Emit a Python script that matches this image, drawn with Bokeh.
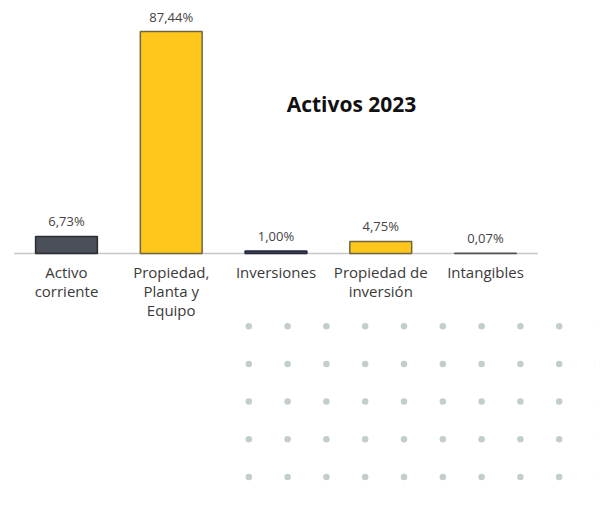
import numpy as np
from bokeh.plotting import figure
from bokeh.models import Range1d, Label
from bokeh.core.properties import value
from bokeh.embed import file_html
from bokeh.resources import INLINE

# ---- data ----
categories = ["Activo\ncorriente", "Propiedad,\nPlanta y\nEquipo", "Inversiones",
              "Propiedad de\ninversión", "Intangibles"]
values = [6.73, 87.44, 1.00, 4.75, 0.07]
bar_colors = ["#4a4f58", "#FFC71C", "#3c4158", "#FFC71C", "#767676"]
edge_colors = ["#2a2d33", "#6f6640", "#25283a", "#6f6640", "#555555"]
title_text = "Activos 2023"

W, H = 595, 503
FONT = "Open Sans"

pos = np.arange(len(values)) + 0.5
labels = [f"{v:.2f}".replace(".", ",") + "%" for v in values]

p = figure(width=W, height=H, output_backend="svg", toolbar_location=None,
           x_range=Range1d(-0.1298, 5.550), y_range=Range1d(-98.46, 99.65),
           min_border=0, outline_line_color=None)
p.axis.visible = False
p.grid.visible = False
p.background_fill_color = "white"
p.border_fill_color = "white"

# decorative dot grid (pixel-like ranges)
p.extra_x_ranges = {"px": Range1d(0, W)}
p.extra_y_ranges = {"py": Range1d(H, 0)}
dx, dy = np.meshgrid(248.3 + 38.8 * np.arange(10), 325.7 + 37.7 * np.arange(6))
p.scatter(dx.ravel(), dy.ravel(), size=6.5, color="#c2cdcd", line_color=None,
          x_range_name="px", y_range_name="py")

# baseline across the category band
p.segment(x0=[0], y0=[0], x1=[len(values)], y1=[0], line_color="#c8c8c8", line_width=1.5)

# bars
p.vbar(x=pos, top=values, bottom=0, width=0.59, fill_color=bar_colors,
       line_color=edge_colors, line_width=1.5)

# value labels
p.text(x=pos, y=values, text=labels, y_offset=-6, text_align="center",
       text_baseline="bottom", text_font=value(FONT), text_font_size="13px",
       text_color="#444444")

# category labels
p.text(x=pos, y=[0] * len(pos), text=categories, y_offset=8, text_align="center",
       text_baseline="top", text_font=value(FONT), text_font_size="15px",
       text_color="#3a3a3a", text_line_height=0.95)

# title
p.add_layout(Label(x=351, y=H - 103, x_units="screen", y_units="screen",
                   text=title_text, text_align="center", text_baseline="middle",
                   text_font=FONT, text_font_size="21px", text_font_style="bold",
                   text_color="#111111"))

open("out.html", "w").write(file_html(p, INLINE))
